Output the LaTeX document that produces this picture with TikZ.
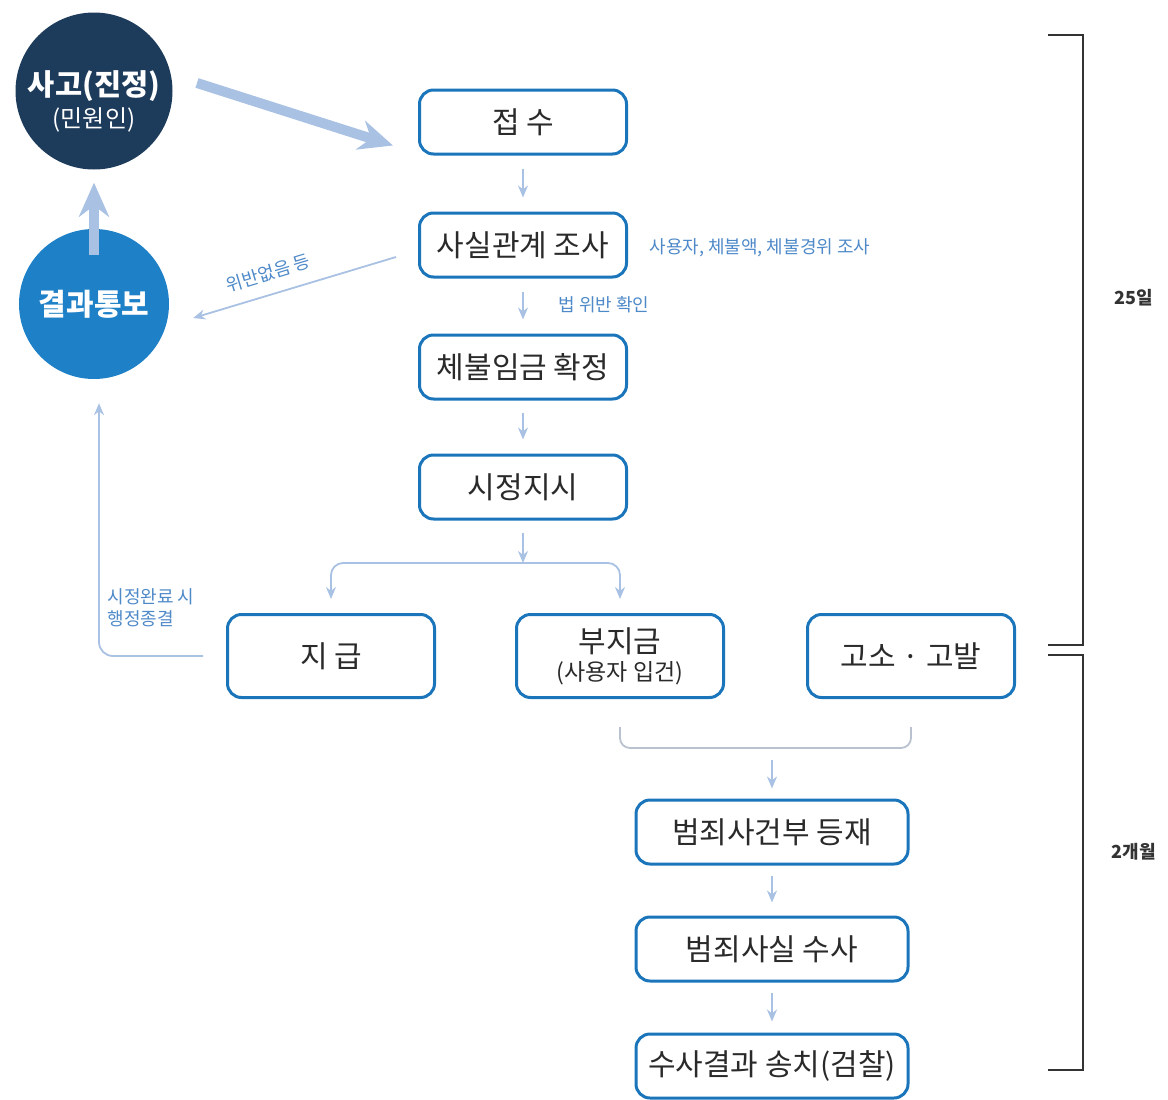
\documentclass[tikz,border=0pt]{standalone}
\usepackage{fontspec}
\setmainfont{Noto Sans CJK KR}
\usetikzlibrary{arrows.meta}
\definecolor{boxblue}{HTML}{1B75BB}
\definecolor{navy}{HTML}{1D3B5A}
\definecolor{circblue}{HTML}{1E80C6}
\definecolor{arrowblue}{HTML}{A9C1E2}
\definecolor{noteblue}{HTML}{4E89C8}
\definecolor{textgray}{HTML}{2A2A2A}
\definecolor{bracketgray}{HTML}{B9C2CE}
\begin{document}
\begin{tikzpicture}[x=1pt,y=-1pt,
  flow/.style={draw=boxblue,line width=3pt,rounded corners=14pt,fill=white,
    minimum width=207pt,minimum height=64pt,inner sep=0pt,text=textgray,
    font=\fontsize{30}{33}\selectfont},
  wide/.style={flow,minimum width=272pt},
  link/.style={draw=arrowblue,line width=1.8pt,-{Stealth[length=12pt,width=10pt]}},
  fat/.style={draw=arrowblue,line width=10pt,-{Stealth[length=34pt,width=30pt]}},
  note/.style={text=noteblue,font=\fontsize{18}{22}\selectfont},
  span/.style={draw=black!80,line width=1.2pt}]
\useasboundingbox (0,0) rectangle (1168,1100);
% circles on the left
\node[circle,fill=navy,minimum size=157pt,inner sep=0pt,text=white,align=center] (sago) at (94,91)
  {\rule{0pt}{46pt}{\fontsize{29.5}{33}\selectfont\bfseries 사고(진정)}\\[5pt]{\fontsize{24}{27}\selectfont (민원인)}};
\node[circle,fill=circblue,minimum size=150pt,inner sep=0pt,text=white,
  font=\fontsize{30}{33}\selectfont\bfseries] (tongbo) at (94,304) {결과통보};
% main flow
\node[flow] (jeopsu) at (523,122) {접 수};
\node[flow] (josa) at (523,245) {사실관계 조사};
\node[flow] (hwakjeong) at (523,367) {체불임금 확정};
\node[flow] (sijeong) at (523,487) {시정지시};
\node[flow,minimum height=83pt] (jigeup) at (331,656) {지 급};
\node[flow,minimum height=83pt,align=center] (bujigeum) at (620,656)
  {부지금\\[-5pt]{\fontsize{23}{26}\selectfont (사용자 입건)}};
\node[flow,minimum height=83pt] (goso) at (911,656) {고소 · 고발};
\node[wide] (deungjae) at (772,832) {범죄사건부 등재};
\node[wide] (susa) at (772,949) {범죄사실 수사};
\node[wide] (songchi) at (772,1066) {수사결과 송치(검찰)};
%
\node[note,anchor=west] (josanote) at (646,248) {사용자, 체불액, 체불경위 조사};
\node[note,anchor=west] (wibannote) at (555,305) {법 위반 확인};
\node[note,anchor=west,align=left] (jonggyeol) at (104,608) {시정완료 시\\행정종결};
% thick arrows
\draw[fat] ([xshift=103pt,yshift=8pt]sago.center) -- ([xshift=-25pt,yshift=10pt]jeopsu.south west);
\draw[fat] ([yshift=-26pt]tongbo.north) -- ([yshift=-13pt]sago.south);
% thin arrows
\draw[link,shorten <=13pt,shorten >=14pt] (jeopsu) -- (josa);
\draw[link,shorten <=13pt,shorten >=14pt] (josa) -- (hwakjeong);
\draw[link,shorten <=12pt,shorten >=14pt] (hwakjeong) -- (sijeong);
\coordinate (fork) at (523,563);
\draw[link,shorten <=12pt] (sijeong) -- (fork);
\draw[link,rounded corners=12pt,shorten >=14pt] (fork) -| (jigeup);
\draw[link,rounded corners=12pt,shorten >=14pt] (fork) -| (bujigeum);
\draw[link] ([xshift=-22pt,yshift=-12pt]josa.west) -- node[note,pos=0.6,above=9pt,sloped] {위반없음 등}
  ([xshift=24pt,yshift=-14pt]tongbo.east);
\draw[link,rounded corners=14pt] ([xshift=-23pt]jigeup.west) -| ([xshift=5pt,yshift=-24pt]tongbo.south);
% lower part
\coordinate (merge) at (772,748);
\draw[draw=bracketgray,line width=1.8pt,rounded corners=10pt]
  ([yshift=-28pt]bujigeum.south) |- (merge) -| ([yshift=-28pt]goso.south);
\draw[link,shorten <=12pt,shorten >=10pt] (merge) -- (deungjae);
\draw[link,shorten <=10pt,shorten >=13pt] (deungjae) -- (susa);
\draw[link,shorten <=10pt,shorten >=11pt] (susa) -- (songchi);
% time brackets
\draw[span] (1048,35) -- (1083,35) -- (1083,645) -- (1048,645);
\draw[span] (1048,655) -- (1083,655) -- (1083,1070) -- (1048,1070);
\node[font=\fontsize{18}{21}\selectfont\bfseries,text=black!80] (days) at (1134,298) {25일};
\node[font=\fontsize{18}{21}\selectfont\bfseries,text=black!80] (months) at (1134,852) {2개월};
\end{tikzpicture}
\end{document}
